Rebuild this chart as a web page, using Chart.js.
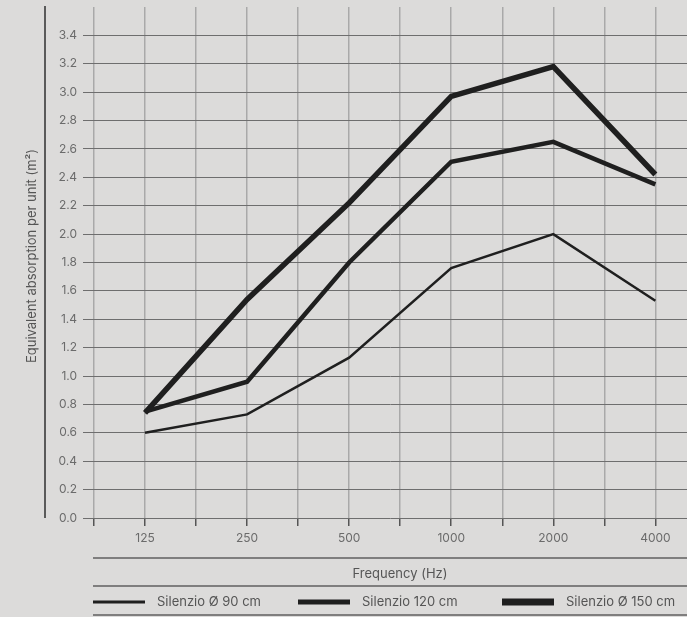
<!DOCTYPE html>
<html>
<head>
<meta charset="utf-8">
<script src="https://cdn.jsdelivr.net/npm/chart.js@4.4.1/dist/chart.umd.min.js"></script>
<style>
  html, body { margin: 0; padding: 0; background: #dcdbda; }
  #wrap { position: relative; width: 687px; height: 617px; }
  canvas { display: block; }
</style>
</head>
<body>
<div id="wrap"><canvas id="c" width="687" height="617"></canvas></div>
<script>
const frequencies = ['125', '250', '500', '1000', '2000', '4000'];
const silenzio90 = [0.60, 0.73, 1.13, 1.76, 2.00, 1.53];
const silenzio120 = [0.75, 0.96, 1.80, 2.51, 2.65, 2.35];
const silenzio150 = [0.74, 1.54, 2.22, 2.97, 3.18, 2.42];
const seriesNames = ['Silenzio Ø 90 cm', 'Silenzio 120 cm', 'Silenzio Ø 150 cm'];
const yTitle = 'Equivalent absorption per unit (m²)';
const xTitle = 'Frequency (Hz)';

const FONT = 'Inter, Roboto, "DejaVu Sans", sans-serif';
const INK = '#1f1f1f';
const widths = [2.5, 4.5, 5.5];

function toPoints(arr) { return arr.map((v, i) => ({ x: i, y: v })); }

const extras = {
  id: 'extras',
  afterDraw(chart) {
    const ctx = chart.ctx;
    const area = chart.chartArea;
    ctx.save();
    ctx.strokeStyle = '#5a5a5a';
    ctx.lineWidth = 2;
    ctx.beginPath();
    ctx.moveTo(45, 6);
    ctx.lineTo(45, area.bottom);
    ctx.stroke();
    ctx.fillStyle = '#555';
    ctx.font = '13px ' + FONT;
    ctx.textAlign = 'center';
    ctx.textBaseline = 'middle';
    ctx.translate(32, 256);
    ctx.rotate(-Math.PI / 2);
    ctx.fillText(yTitle, 0, 0);
    ctx.restore();

    ctx.save();
    ctx.strokeStyle = '#222';
    ctx.lineWidth = 1.2;
    [558, 586, 615].forEach(y => {
      ctx.beginPath();
      ctx.moveTo(93, y);
      ctx.lineTo(687, y);
      ctx.stroke();
    });
    ctx.fillStyle = '#555';
    ctx.font = '13px ' + FONT;
    ctx.textAlign = 'center';
    ctx.textBaseline = 'middle';
    ctx.fillText(xTitle, 400, 574);
    const starts = [93, 298, 502];
    chart.data.datasets.forEach((ds, i) => {
      const x0 = starts[i];
      ctx.fillStyle = INK;
      const h = [3, 5, 7][i];
      ctx.fillRect(x0, 602 - h / 2, 52, h);
      ctx.fillStyle = '#555';
      ctx.textAlign = 'left';
      ctx.fillText(ds.label, x0 + 64, 602);
    });
    ctx.restore();
  }
};

new Chart(document.getElementById('c'), {
  type: 'line',
  data: {
    datasets: [silenzio90, silenzio120, silenzio150].map((arr, i) => ({
      label: seriesNames[i],
      data: toPoints(arr),
      borderColor: INK,
      backgroundColor: INK,
      borderWidth: widths[i],
      borderJoinStyle: 'miter',
      borderCapStyle: 'butt',
      pointRadius: 0,
      tension: 0,
      fill: false
    }))
  },
  options: {
    responsive: false,
    animation: false,
    layout: { padding: { top: 7, left: 0, right: 0, bottom: 0 } },
    plugins: { legend: { display: false }, tooltip: { enabled: false } },
    scales: {
      x: {
        type: 'linear',
        min: -0.5,
        max: 5.31,
        afterBuildTicks(scale) {
          const t = [];
          for (let v = -0.5; v <= 5.31; v += 0.5) t.push({ value: v });
          scale.ticks = t;
        },
        afterFit(scale) {
          scale.height = 99;
          scale.paddingLeft = 0;
          scale.paddingRight = 0;
        },
        border: { display: false },
        grid: {
          color: '#a9a9a9',
          lineWidth: 1.5,
          drawTicks: true,
          tickLength: 8,
          tickColor: '#555'
        },
        ticks: {
          autoSkip: false,
          maxRotation: 0,
          padding: 5,
          color: '#6b6b6b',
          font: { family: FONT, size: 12 },
          callback(v) {
            return Number.isInteger(v) && v >= 0 && v < frequencies.length ? frequencies[v] : '';
          }
        }
      },
      y: {
        min: 0,
        max: 3.6,
        afterFit(scale) {
          scale.width = 94;
          scale.paddingTop = 0;
          scale.paddingBottom = 0;
        },
        border: { display: false },
        grid: {
          color(c) { return c.tick && c.tick.value > 3.5 ? 'rgba(0,0,0,0)' : '#6e6e6e'; },
          lineWidth: 1,
          drawTicks: true,
          tickLength: 11
        },
        ticks: {
          stepSize: 0.2,
          padding: 6,
          color: '#6b6b6b',
          font: { family: FONT, size: 12 },
          callback(v) { return v > 3.5 ? '' : v.toFixed(1); }
        }
      }
    }
  },
  plugins: [extras]
});
</script>
</body>
</html>
